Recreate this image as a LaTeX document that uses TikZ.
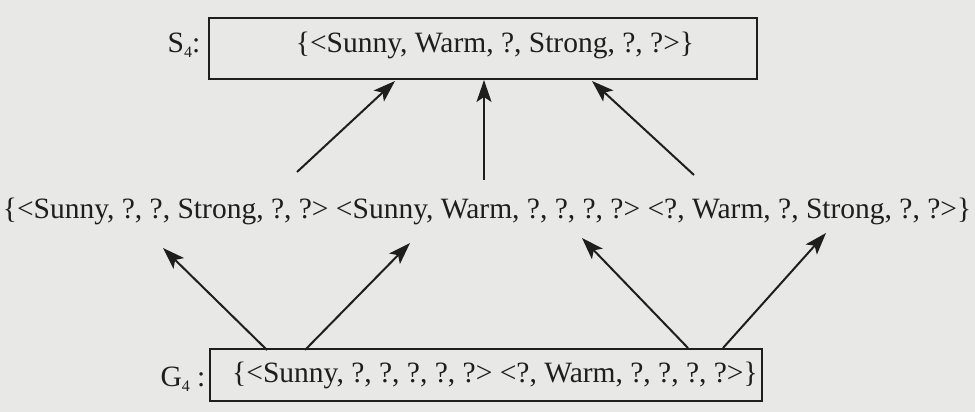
\documentclass[tikz,border=0pt]{standalone}
\usepackage{fontspec}
\setmainfont{Liberation Serif}
\usetikzlibrary{arrows.meta}
\definecolor{paper}{RGB}{232,232,230}
\definecolor{ink}{RGB}{30,30,30}
\newcommand{\subf}[1]{\raisebox{-0.35ex}{\fontsize{16}{16}\selectfont #1}}
\begin{document}
\begin{tikzpicture}[x=1pt,y=-1pt,
  txt/.style={inner sep=0pt,text=ink,font=\fontsize{29.5}{32}\selectfont},
  setbox/.style={draw=ink,line width=1.8pt},
  arr/.style={draw=ink,line width=2pt,-{Stealth[length=22pt,width=15pt,inset=5pt,fill=ink]}}]
\fill[paper] (0,0) rectangle (975,412);
\useasboundingbox (0,0) rectangle (975,412);
% S4 box
\draw[setbox] (209,18) rectangle (757,79);
\node[txt] (s4txt) at (495,45) {\{<Sunny, Warm, ?, Strong, ?, ?>\}};
\node[txt] (s4lab) at (184,45) {S\subf{4}:};
% middle row
\node[txt] (mid) at (487,211) {\{<Sunny, ?, ?, Strong, ?, ?> <Sunny, Warm, ?, ?, ?, ?> <?, Warm, ?, Strong, ?, ?>\}};
% G4 box
\draw[setbox] (210,349) rectangle (762,401);
\node[txt] (g4txt) at (495,375) {\{<Sunny, ?, ?, ?, ?, ?> <?, Warm, ?, ?, ?, ?>\}};
\node[txt] (g4lab) at (183,379) {G\subf{4} :};
% arrow end points
\coordinate (a1) at (297,172); \coordinate (b1) at (395,81);
\coordinate (a2) at (484,180); \coordinate (b2) at (484,80);
\coordinate (a3) at (694,175); \coordinate (b3) at (592,81);
\coordinate (c1) at (267,350); \coordinate (d1) at (163,248);
\coordinate (c2) at (305,350); \coordinate (d2) at (410,243);
\coordinate (c3) at (688,348); \coordinate (d3) at (582,238);
\coordinate (c4) at (723,348); \coordinate (d4) at (826,233);
\draw[arr] (a1) -- (b1);
\draw[arr] (a2) -- (b2);
\draw[arr] (a3) -- (b3);
\draw[arr] (c1) -- (d1);
\draw[arr] (c2) -- (d2);
\draw[arr] (c3) -- (d3);
\draw[arr] (c4) -- (d4);
\end{tikzpicture}
\end{document}
